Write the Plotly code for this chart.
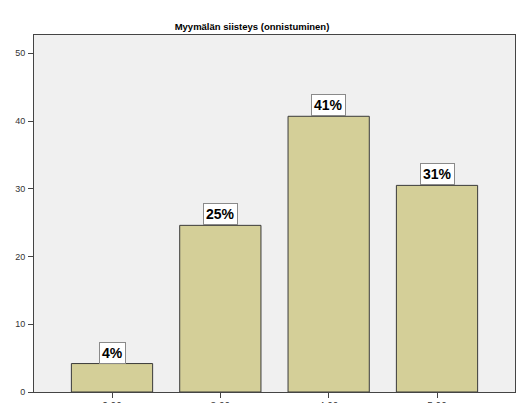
import plotly.graph_objects as go

categories = ["2.00", "3.00", "4.00", "5.00"]
values = [4.2, 24.6, 40.7, 30.5]
labels = ["4%", "25%", "41%", "31%"]
y_ticks = [0, 10, 20, 30, 40, 50]

fig = go.Figure()
fig.add_trace(go.Bar(
    x=categories, y=values,
    marker=dict(color="#d4cf98", line=dict(color="#3a3a3a", width=1)),
    width=0.75,
))

for i, (v, t) in enumerate(zip(values, labels)):
    fig.add_annotation(
        x=i, y=v, text="<b>" + t + "</b>", showarrow=False,
        yanchor="bottom", xanchor="center", yshift=0,
        font=dict(family="Liberation Sans, Arial", size=14, color="#000"),
        bgcolor="white", bordercolor="#8a8a8a", borderwidth=1, borderpad=2,
    )

fig.update_layout(
    width=518, height=403,
    margin=dict(l=34, r=3, t=35, b=11, autoexpand=False),
    paper_bgcolor="white",
    plot_bgcolor="#f0f0f0",
    showlegend=False,
    title=dict(
        text="<b>Myymälän siisteys (onnistuminen)</b>",
        x=0.4865, xanchor="center", xref="container",
        y=1 - 27 / 403, yanchor="middle", yref="container",
        font=dict(family="Liberation Sans, Arial", size=9.5, color="#000"),
    ),
    xaxis=dict(
        type="category", range=[-0.72, 3.72], automargin=False,
        showline=True, linecolor="#444", linewidth=1, mirror=True,
        ticks="outside", ticklen=5, tickcolor="#444",
        showgrid=False, zeroline=False,
        tickfont=dict(family="Liberation Sans, Arial", size=10, color="#333"),
    ),
    yaxis=dict(
        range=[0, 52.7], tickvals=y_ticks, automargin=False,
        showline=True, linecolor="#444", linewidth=1, mirror=True,
        ticks="outside", ticklen=5, tickcolor="#444",
        showgrid=False, zeroline=False,
        tickfont=dict(family="Liberation Sans, Arial", size=9, color="#333"),
        ticklabelstandoff=1,
    ),
    bargap=0.25,
)

fig.write_html("out.html")
